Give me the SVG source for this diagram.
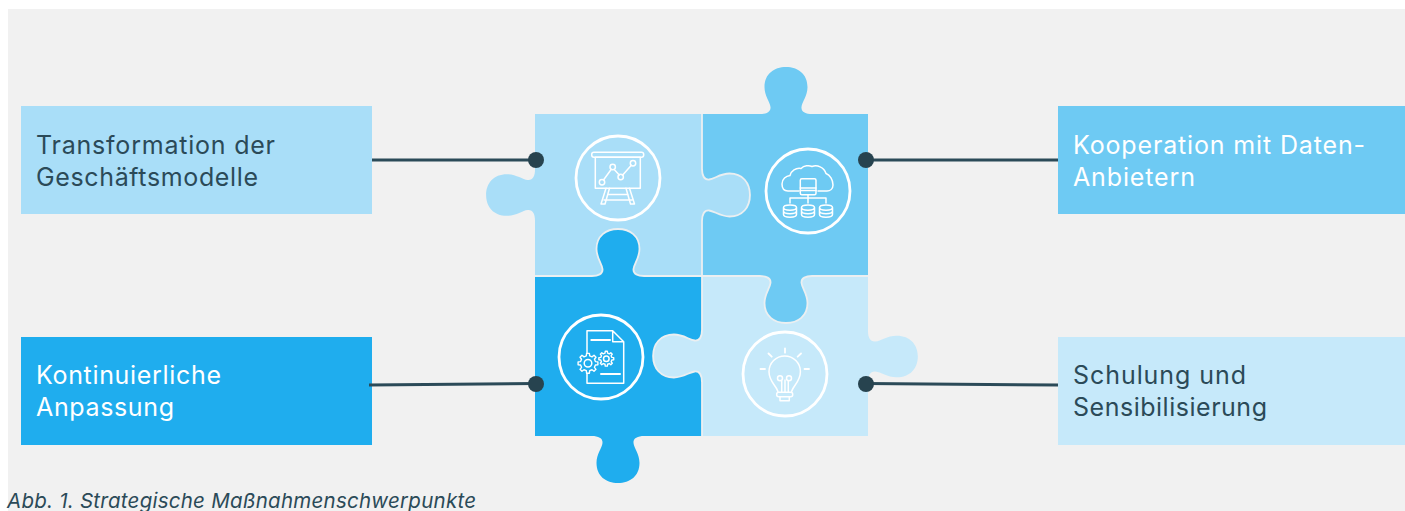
<svg xmlns="http://www.w3.org/2000/svg" width="1405" height="511" viewBox="0 0 1405 511">
<style>
.lbl{font-family:"Inter","Noto Sans",sans-serif;font-size:25px;font-weight:400}
.dark{fill:#2b4a58}.white{fill:#ffffff}
.cap{font-family:"Inter","Noto Sans",sans-serif;font-size:20.500px;font-style:italic;font-weight:400;fill:#2b4a58}
.seam{fill:none;stroke:#ebeff1;stroke-width:1.800}
.k{stroke:#ebeff1;stroke-width:1.800}
.ring{fill:none;stroke:#fff;stroke-width:2.800}
.ic{fill:none;stroke:#fff;stroke-width:1.500;stroke-linecap:round;stroke-linejoin:round}
.conn{fill:none;stroke:#2b4a58;stroke-width:3}
.dot{fill:#27434f}
</style>
<defs>
<path id="knob" d="M-26,0C-20,0-15-2-15.500-7C-16-12-21.500-18-21.500-27C-21.500-40-12-47 0-47C12-47 21.500-40 21.500-27C21.500-18 16-12 15.500-7C15-2 20,0 26,0"/>
<polygon id="gear" vector-effect="non-scaling-stroke" fill="#1fadee" stroke="#fff" stroke-width="1.400" stroke-linejoin="round" points="7.410,-1.710 9.900,-1.390 9.900,1.390 7.410,1.710 6.450,4.030 7.990,6.020 6.020,7.990 4.030,6.450 1.710,7.410 1.390,9.900 -1.390,9.900 -1.710,7.410 -4.030,6.450 -6.020,7.990 -7.990,6.020 -6.450,4.030 -7.410,1.710 -9.900,1.390 -9.900,-1.390 -7.410,-1.710 -6.450,-4.030 -7.990,-6.020 -6.020,-7.990 -4.030,-6.450 -1.710,-7.410 -1.390,-9.900 1.390,-9.900 1.710,-7.410 4.030,-6.450 6.020,-7.990 7.990,-6.020 6.450,-4.030"/>
</defs>
<rect width="1405" height="511" fill="#ffffff"/>
<rect x="8" y="9" width="1397" height="502" fill="#f1f1f1"/>

<g id="piece-b">
<rect x="702" y="114" width="166" height="162" fill="#6ecaf3"/>
<use href="#knob" transform="translate(786,114)" fill="#6ecaf3"/>
</g>
<g id="piece-d">
<rect x="702" y="276" width="166" height="160" fill="#c6e9fa"/>
<use href="#knob" transform="translate(868,356.500) rotate(90) scale(.97,1.06)" fill="#c6e9fa"/>
</g>
<g id="piece-c">
<rect x="535" y="276" width="167" height="160" fill="#1fadee"/>
<use href="#knob" transform="translate(618,436) rotate(180)" fill="#1fadee"/>
</g>
<g id="piece-a">
<rect x="535" y="114" width="167" height="162" fill="#a9def8"/>
<use href="#knob" transform="translate(535,195) rotate(-90) scale(.97,1.04)" fill="#a9def8"/>
</g>
<g id="knobs">
<path class="seam" d="M702,114V169M702,221V330M702,382V436M535,276H592M644,276H760M812,276H868"/>
<use class="k" href="#knob" transform="translate(702,195) rotate(90) scale(1,1.02)" fill="#a9def8"/>
<use class="k" href="#knob" transform="translate(618,276)" fill="#1fadee"/>
<use class="k" href="#knob" transform="translate(786,276) rotate(180)" fill="#6ecaf3"/>
<use class="k" href="#knob" transform="translate(702,356) rotate(-90) scale(1,1.04)" fill="#c6e9fa"/>
</g>

<g id="icon-a">
<circle class="ring" cx="618" cy="178" r="42"/>
<rect class="ic" x="591.700" y="152.300" width="52" height="5" rx="2.200"/>
<rect class="ic" x="595.300" y="157.300" width="45" height="31"/>
<path class="ic" d="M603.500,180L611.300,169.300M614.200,169.500L619.300,175M622.500,175.200L631.300,165.300"/>
<circle class="ic" cx="602" cy="182.300" r="2.700"/><circle class="ic" cx="612.700" cy="167" r="2.700"/><circle class="ic" cx="620.700" cy="177" r="2.700"/><circle class="ic" cx="633" cy="163.300" r="2.700"/>
<path class="ic" d="M606,188.300L601,204H605L609.500,188.300M626,188.300L630.500,204H634.500L629.500,188.300M608,194.500H628M604,200H632"/>
</g>
<g id="icon-b">
<circle class="ring" cx="808" cy="191" r="42"/>
<path class="ic" d="M799,191H788C784,191 782,188 782,184C782,179 786,176 790,175.500C791,171 796,167.500 801,168.500C804,165.500 809,165 812,166.500C817,164.500 824,167 826,173.500C830,175 833,180 833,185C833,189 830,191 827,191H818"/>
<rect class="ic" x="800.300" y="178.700" width="15.700" height="16" rx="1.500"/>
<path class="ic" d="M800.300,188H816M800.300,190.500H816M808,194.700V203M790,203V198H826V203"/>
<path class="ic" d="M783.500,207.500C783.500,204 796.500,204 796.500,207.500V214.500C796.500,218 783.500,218 783.500,214.500ZM783.500,207.500C783.500,211 796.500,211 796.500,207.500M783.500,211C783.500,214.500 796.500,214.500 796.500,211"/>
<path class="ic" d="M801.500,207.500C801.500,204 814.500,204 814.500,207.500V214.500C814.500,218 801.500,218 801.500,214.500ZM801.500,207.500C801.500,211 814.500,211 814.500,207.500M801.500,211C801.500,214.500 814.500,214.500 814.500,211"/>
<path class="ic" d="M819.500,207.500C819.500,204 832.500,204 832.500,207.500V214.500C832.500,218 819.500,218 819.500,214.500ZM819.500,207.500C819.500,211 832.500,211 832.500,207.500M819.500,211C819.500,214.500 832.500,214.500 832.500,211"/>
</g>
<g id="icon-c">
<circle class="ring" cx="601" cy="357" r="42"/>
<path class="ic" d="M587,383.300V330.700H612.700L623.700,341.700V383.300ZM612.700,330.700V341.700H623.700"/>
<path class="ic" style="stroke-width:2" d="M591.300,340H610M601,374H620"/>
<use href="#gear" transform="translate(588,363.300)"/>
<circle class="ic" cx="588" cy="363.300" r="3.800"/>
<use href="#gear" transform="translate(606.300,358.700) scale(.75)"/>
<circle class="ic" cx="606.300" cy="358.700" r="2.800"/>
</g>
<g id="icon-d">
<circle class="ring" cx="785" cy="374" r="42"/>
<path class="ic" d="M778,392C777,386 769,382 769,371.700C769,363 776,356 784.700,356C793.400,356 800.400,363 800.400,371.700C800.400,382 792.500,386 791.500,392"/>
<rect class="ic" x="776.700" y="392.300" width="16" height="4.400" rx="2"/>
<path class="ic" d="M780,396.700V400.700H789.300V396.700M781.700,381V392.300M788.300,381V392.300M785,380V392.300"/>
<circle class="ic" cx="780" cy="378.300" r="2.500"/><circle class="ic" cx="789" cy="378.300" r="2.500"/>
<path class="ic" style="stroke-width:1.800" d="M785,348.300V352.700M768.500,353.500L771.700,356.700M797.700,356.700L801,353.500M760.500,369H765M804.500,369H809"/>
</g>

<g id="label-transformation">
<rect x="21" y="106" width="351" height="108" fill="#a9def8"/>
<text class="lbl dark" x="36" y="154" textLength="239">Transformation der</text>
<text class="lbl dark" x="36" y="186" textLength="222">Geschäftsmodelle</text>
</g>
<g id="label-kooperation">
<rect x="1058" y="106" width="347" height="108" fill="#6ecaf3"/>
<text class="lbl white" x="1073" y="154" textLength="292">Kooperation mit Daten-</text>
<text class="lbl white" x="1073" y="186" textLength="122">Anbietern</text>
</g>
<g id="label-anpassung">
<rect x="21" y="337" width="351" height="108" fill="#1fadee"/>
<text class="lbl white" x="36" y="384" textLength="185">Kontinuierliche</text>
<text class="lbl white" x="36" y="416" textLength="138">Anpassung</text>
</g>
<g id="label-schulung">
<rect x="1058" y="337" width="347" height="108" fill="#c6e9fa"/>
<text class="lbl dark" x="1073" y="384" textLength="173">Schulung und</text>
<text class="lbl dark" x="1073" y="416" textLength="194">Sensibilisierung</text>
</g>

<g id="connectors">
<path class="conn" d="M372,160H536"/>
<path class="conn" d="M1058,160H866"/>
<path class="conn" d="M369,385L536,383.500"/>
<path class="conn" d="M1058,385L866,383.500"/>
<circle class="dot" cx="536" cy="160" r="8"/>
<circle class="dot" cx="866" cy="160" r="8"/>
<circle class="dot" cx="536" cy="384" r="8"/>
<circle class="dot" cx="866" cy="384" r="8"/>
</g>
<text id="caption" class="cap" x="7" y="508" textLength="469">Abb. 1. Strategische Maßnahmenschwerpunkte</text>
</svg>
